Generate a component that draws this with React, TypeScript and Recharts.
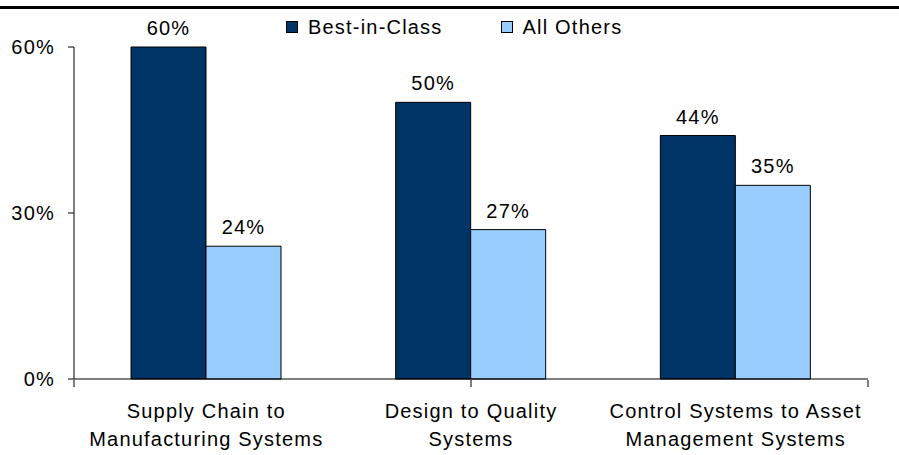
import React from "react";
import {
  BarChart,
  Bar,
  XAxis,
  YAxis,
  Legend,
  LabelList,
} from "recharts";

// categories and series values
const categories = [
  "Supply Chain to\nManufacturing Systems",
  "Design to Quality\nSystems",
  "Control Systems to Asset\nManagement Systems",
];
const bestInClass = [60, 50, 44];
const allOthers = [24, 27, 35];
const yTicks = [0, 30, 60];
const edgeTicks = [0, 1, 2, 3];

const chartData = categories.map((name, i) => ({
  name,
  best: bestInClass[i],
  others: allOthers[i],
}));

const FONT = '"Liberation Sans", Arial, sans-serif';
const pct = (v: number) => `${v}%`;

function CategoryTick(props: any) {
  const { x, y, payload } = props;
  const lines = String(payload.value).split("\n");
  return (
    <text x={x} y={y} textAnchor="middle" fill="#000" fontSize={20}>
      {lines.map((line, i) => (
        <tspan key={i} x={x} dy={i === 0 ? 39 : 28}>
          {line}
        </tspan>
      ))}
    </text>
  );
}

function LegendContent(props: any) {
  const { payload } = props;
  return (
    <div style={{ display: "flex", paddingLeft: 286, lineHeight: "26px", fontSize: 20 }}>
      {(payload || []).map((entry: any, i: number) => (
        <div key={i} style={{ display: "flex", alignItems: "center", marginRight: 58 }}>
          <span
            style={{
              display: "inline-block",
              width: 10,
              height: 10,
              background: entry.color,
              border: "1px solid #000",
              marginRight: 10,
            }}
          />
          <span style={{ color: "#000" }}>{entry.value}</span>
        </div>
      ))}
    </div>
  );
}

export default function App() {
  return (
    <div
      style={{
        position: "absolute",
        left: 0,
        top: 0,
        width: 899,
        height: 455,
        background: "#fff",
        fontFamily: FONT,
        letterSpacing: "1.2px",
      }}
    >
      <div style={{ position: "absolute", left: 0, top: 6, width: 899, height: 3, background: "#000" }} />
      <BarChart
        width={899}
        height={455}
        data={chartData}
        margin={{ top: 47, right: 31, left: 0, bottom: 74 }}
        barCategoryGap={57}
        barGap={0}
      >
        <XAxis
          dataKey="name"
          height={1}
          interval={0}
          tickLine={false}
          tickSize={0}
          tickMargin={0}
          axisLine={{ stroke: "#000" }}
          tick={<CategoryTick />}
        />
        <XAxis
          xAxisId="edge"
          type="number"
          domain={[0, 3]}
          ticks={edgeTicks}
          allowDataOverflow
          height={1}
          axisLine={false}
          tickLine={{ stroke: "#000" }}
          tickSize={7}
          tick={() => <g />}
        />
        <YAxis
          width={74}
          domain={[0, 60]}
          ticks={yTicks}
          tickFormatter={pct}
          tickSize={6}
          tickMargin={13}
          axisLine={{ stroke: "#000" }}
          tickLine={{ stroke: "#000" }}
          tick={{ fill: "#000", fontSize: 20 }}
        />
        <Legend
          verticalAlign="middle"
          align="center"
          layout="horizontal"
          itemSorter="dataKey"
          wrapperStyle={{ top: 14, left: 0, width: 899 }}
          content={<LegendContent />}
        />
        <Bar dataKey="best" name="Best-in-Class" fill="#003366" stroke="#000" strokeWidth={1} isAnimationActive={false}>
          <LabelList dataKey="best" position="top" offset={12} formatter={pct} fill="#000" fontSize={20} />
        </Bar>
        <Bar dataKey="others" name="All Others" fill="#99CCFF" stroke="#000" strokeWidth={1} isAnimationActive={false}>
          <LabelList dataKey="others" position="top" offset={12} formatter={pct} fill="#000" fontSize={20} />
        </Bar>
      </BarChart>
    </div>
  );
}
